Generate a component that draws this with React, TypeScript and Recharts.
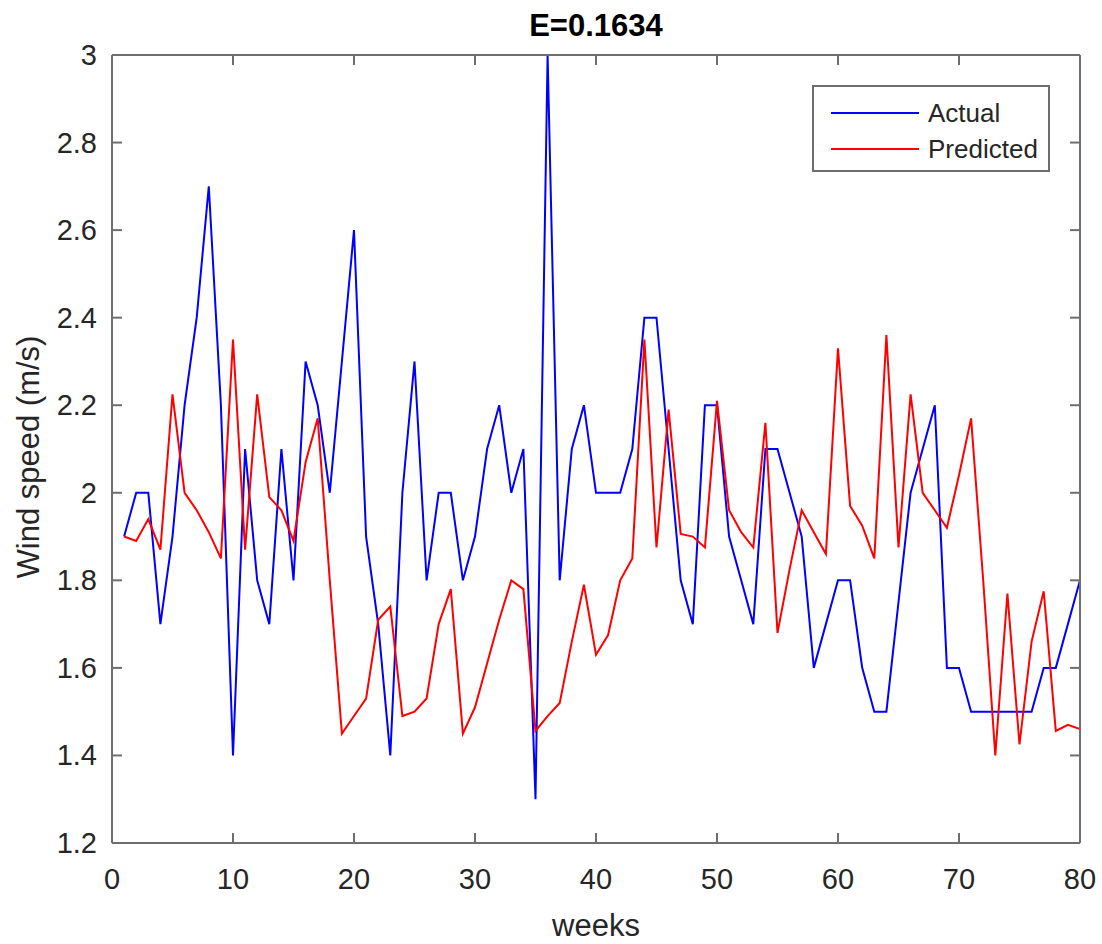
import React from 'react';
import { LineChart, Line, XAxis, YAxis, Legend } from 'recharts';

// weekly wind speed, actual vs model output
const weeks = [
  1, 2, 3, 4, 5, 6, 7, 8, 9, 10, 11, 12, 13, 14, 15, 16, 17, 18, 19, 20,
  21, 22, 23, 24, 25, 26, 27, 28, 29, 30, 31, 32, 33, 34, 35, 36, 37, 38, 39, 40,
  41, 42, 43, 44, 45, 46, 47, 48, 49, 50, 51, 52, 53, 54, 55, 56, 57, 58, 59, 60,
  61, 62, 63, 64, 65, 66, 67, 68, 69, 70, 71, 72, 73, 74, 75, 76, 77, 78, 79, 80,
];

const actual = [
  1.9, 2.0, 2.0, 1.7, 1.9, 2.2, 2.4, 2.7, 2.2, 1.4, 2.1, 1.8, 1.7, 2.1, 1.8, 2.3, 2.2, 2.0, 2.3, 2.6,
  1.9, 1.7, 1.4, 2.0, 2.3, 1.8, 2.0, 2.0, 1.8, 1.9, 2.1, 2.2, 2.0, 2.1, 1.3, 3.0, 1.8, 2.1, 2.2, 2.0,
  2.0, 2.0, 2.1, 2.4, 2.4, 2.1, 1.8, 1.7, 2.2, 2.2, 1.9, 1.8, 1.7, 2.1, 2.1, 2.0, 1.9, 1.6, 1.7, 1.8,
  1.8, 1.6, 1.5, 1.5, 1.75, 2.0, 2.1, 2.2, 1.6, 1.6, 1.5, 1.5, 1.5, 1.5, 1.5, 1.5, 1.6, 1.6, 1.7, 1.8,
];

const predicted = [
  1.9, 1.89, 1.94, 1.87, 2.225, 2.0, 1.96, 1.91, 1.85, 2.35, 1.87, 2.225, 1.99, 1.96, 1.89, 2.07, 2.17, 1.8, 1.45, 1.49,
  1.53, 1.71, 1.74, 1.49, 1.5, 1.53, 1.7, 1.78, 1.45, 1.51, 1.61, 1.71, 1.8, 1.78, 1.456, 1.49, 1.52, 1.66, 1.79, 1.63,
  1.675, 1.8, 1.85, 2.35, 1.875, 2.19, 1.906, 1.9, 1.875, 2.21, 1.96, 1.91, 1.875, 2.16, 1.68, 1.825, 1.96, 1.91, 1.86, 2.33,
  1.97, 1.925, 1.85, 2.36, 1.875, 2.225, 2.0, 1.96, 1.92, 2.04, 2.17, 1.8, 1.4, 1.77, 1.425, 1.66, 1.775, 1.456, 1.47, 1.46,
];

const xTicks = [0, 10, 20, 30, 40, 50, 60, 70, 80];
const yTicks = [1.2, 1.4, 1.6, 1.8, 2.0, 2.2, 2.4, 2.6, 2.8, 3.0];

const FONT = '"Liberation Sans", Arial, Helvetica, sans-serif';
const TXT = '#262626';
const AXIS = '#6e6e6e';

const data = weeks.map((w, i) => ({ week: w, actual: actual[i], predicted: predicted[i] }));

const fmtY = (v: number) => String(Number(v.toFixed(1)));

// matlab style: ticks point into the box
const BottomTick = (p: any) => (
  <g>
    <line x1={p.x} x2={p.x} y1={p.y} y2={p.y - 10} stroke={AXIS} strokeWidth={2} />
    <text x={p.x} y={p.y + 46} textAnchor="middle" fontSize={29} fill={TXT} fontFamily={FONT}>
      {p.payload.value}
    </text>
  </g>
);

const LeftTick = (p: any) => (
  <g>
    <line x1={p.x} x2={p.x + 10} y1={p.y} y2={p.y} stroke={AXIS} strokeWidth={2} />
    <text x={p.x - 15} y={p.y + 10} textAnchor="end" fontSize={29} fill={TXT} fontFamily={FONT}>
      {fmtY(p.payload.value)}
    </text>
  </g>
);

const TopTick = (p: any) => (
  <line x1={p.x} x2={p.x} y1={p.y} y2={p.y + 10} stroke={AXIS} strokeWidth={2} />
);

const RightTick = (p: any) => (
  <line x1={p.x} x2={p.x - 10} y1={p.y} y2={p.y} stroke={AXIS} strokeWidth={2} />
);

const XLabel = (p: any) => {
  const vb = p.viewBox;
  return (
    <text x={vb.x + vb.width / 2} y={936} textAnchor="middle" fontSize={31} fill={TXT} fontFamily={FONT}>
      weeks
    </text>
  );
};

const YLabel = (p: any) => {
  const vb = p.viewBox;
  const cx = 28;
  const cy = vb.y + vb.height / 2 + 8;
  return (
    <text
      x={cx}
      y={cy}
      transform={`rotate(-90, ${cx}, ${cy})`}
      textAnchor="middle"
      dominantBaseline="central"
      fontSize={31}
      fill={TXT}
      fontFamily={FONT}
    >
      Wind speed (m/s)
    </text>
  );
};

const LegendBox = (props: any) => {
  const items = props.payload || [];
  return (
    <div
      style={{
        width: 238,
        height: 87,
        boxSizing: 'border-box',
        border: `2px solid ${AXIS}`,
        background: '#fff',
        position: 'relative',
        fontFamily: FONT,
        fontSize: 26,
        color: TXT,
      }}
    >
      {items.map((it: any, i: number) => (
        <div key={it.value} style={{ position: 'absolute', left: 0, top: 10 + i * 36, height: 32, width: '100%' }}>
          <svg width={90} height={32} style={{ position: 'absolute', left: 16, top: 0 }}>
            <line x1={1} x2={89} y1={16} y2={16} stroke={it.color} strokeWidth={2} />
          </svg>
          <span style={{ position: 'absolute', left: 114, top: 0, lineHeight: '32px', whiteSpace: 'nowrap' }}>
            {it.value}
          </span>
        </div>
      ))}
    </div>
  );
};

export default function App() {
  return (
    <div style={{ position: 'absolute', left: 0, top: 0, width: 1102, height: 944, background: '#fff' }}>
      <div
        style={{
          position: 'absolute',
          left: 112,
          width: 968,
          top: 8,
          textAlign: 'center',
          fontFamily: FONT,
          fontSize: 31,
          fontWeight: 'bold',
          lineHeight: '36px',
          color: '#000',
          zIndex: 2,
        }}
      >
        E=0.1634
      </div>
      <LineChart width={1102} height={944} data={data} margin={{ top: 54, right: 21, bottom: 0, left: 0 }}>
        <XAxis
          xAxisId="bottom"
          dataKey="week"
          type="number"
          domain={[0, 80]}
          allowDataOverflow
          ticks={xTicks}
          interval={0}
          height={101}
          tickSize={0}
          tickMargin={0}
          tickLine={false}
          tick={BottomTick}
          axisLine={{ stroke: AXIS, strokeWidth: 2 }}
          label={XLabel}
        />
        <XAxis
          xAxisId="top"
          orientation="top"
          dataKey="week"
          type="number"
          domain={[0, 80]}
          allowDataOverflow
          ticks={xTicks}
          interval={0}
          height={1}
          tickSize={0}
          tickMargin={0}
          tickLine={false}
          tick={TopTick}
          axisLine={{ stroke: AXIS, strokeWidth: 2 }}
        />
        <YAxis
          yAxisId="left"
          type="number"
          domain={[1.2, 3]}
          allowDataOverflow
          ticks={yTicks}
          interval={0}
          width={112}
          tickSize={0}
          tickMargin={0}
          tickLine={false}
          tick={LeftTick}
          axisLine={{ stroke: AXIS, strokeWidth: 2 }}
          label={YLabel}
        />
        <YAxis
          yAxisId="right"
          orientation="right"
          type="number"
          domain={[1.2, 3]}
          allowDataOverflow
          ticks={yTicks}
          interval={0}
          width={1}
          tickSize={0}
          tickMargin={0}
          tickLine={false}
          tick={RightTick}
          axisLine={{ stroke: AXIS, strokeWidth: 2 }}
        />
        <Legend
          layout="vertical"
          verticalAlign="middle"
          align="center"
          content={LegendBox}
          wrapperStyle={{ position: 'absolute', left: 812, top: 85, width: 238, height: 87 }}
        />
        <Line
          xAxisId="bottom"
          yAxisId="left"
          type="linear"
          dataKey="actual"
          name="Actual"
          stroke="#0000ff"
          strokeWidth={2}
          dot={false}
          activeDot={false}
          isAnimationActive={false}
        />
        <Line
          xAxisId="bottom"
          yAxisId="left"
          type="linear"
          dataKey="predicted"
          name="Predicted"
          stroke="#ff0000"
          strokeWidth={2}
          dot={false}
          activeDot={false}
          isAnimationActive={false}
        />
      </LineChart>
    </div>
  );
}
